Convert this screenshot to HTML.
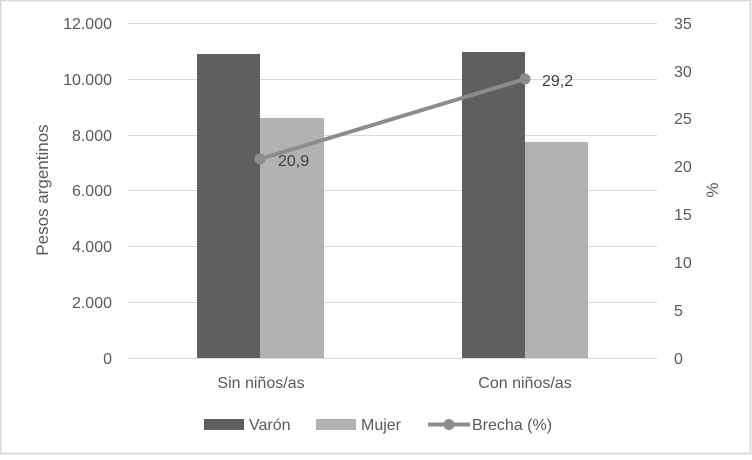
<!DOCTYPE html>
<html><head><meta charset="utf-8"><style>
html,body{margin:0;padding:0;background:#fff}
text{font-family:"Liberation Sans",sans-serif;fill:#595959}
</style></head><body>
<svg width="752" height="455" viewBox="0 0 752 455" xmlns="http://www.w3.org/2000/svg">
<rect x="0.5" y="0.5" width="750" height="453" fill="#fff" stroke="#d9d9d9" stroke-width="2"/>
<g stroke="#d9d9d9" stroke-width="1">
<line x1="128" y1="23.5" x2="657" y2="23.5"/>
<line x1="128" y1="79.5" x2="657" y2="79.5"/>
<line x1="128" y1="135.5" x2="657" y2="135.5"/>
<line x1="128" y1="190.5" x2="657" y2="190.5"/>
<line x1="128" y1="246.5" x2="657" y2="246.5"/>
<line x1="128" y1="302.5" x2="657" y2="302.5"/>
<line x1="128" y1="358.5" x2="657" y2="358.5"/>
</g>
<rect x="197" y="54" width="63" height="304" fill="#5f5f5f"/>
<rect x="260" y="118" width="64" height="240" fill="#b2b2b2"/>
<rect x="462" y="52" width="63" height="306" fill="#5f5f5f"/>
<rect x="525" y="142" width="63" height="216" fill="#b2b2b2"/>
<line x1="260" y1="159" x2="525" y2="79" stroke="#8c8c8c" stroke-width="4"/>
<circle cx="260" cy="159" r="5.5" fill="#8c8c8c"/>
<circle cx="525" cy="79" r="5.5" fill="#8c8c8c"/>
<text x="278" y="166" font-size="16" fill="#404040" style="fill:#404040">20,9</text>
<text x="542" y="86" font-size="16" style="fill:#404040">29,2</text>
<g font-size="16" text-anchor="end">
<text x="112" y="29">12.000</text>
<text x="112" y="85">10.000</text>
<text x="112" y="141">8.000</text>
<text x="112" y="196">6.000</text>
<text x="112" y="252">4.000</text>
<text x="112" y="308">2.000</text>
<text x="112" y="364">0</text>
</g>
<g font-size="16">
<text x="674" y="29">35</text>
<text x="674" y="77">30</text>
<text x="674" y="124">25</text>
<text x="674" y="172">20</text>
<text x="674" y="220">15</text>
<text x="674" y="268">10</text>
<text x="674" y="316">5</text>
<text x="674" y="364">0</text>
</g>
<text transform="translate(48,190) rotate(-90)" font-size="17" text-anchor="middle">Pesos argentinos</text>
<text transform="translate(718,190) rotate(-90)" font-size="17" text-anchor="middle">%</text>
<g font-size="16" text-anchor="middle">
<text x="261" y="388">Sin niños/as</text>
<text x="525" y="388">Con niños/as</text>
</g>
<rect x="204" y="419" width="40" height="11" fill="#5f5f5f"/>
<text x="249" y="430" font-size="16">Varón</text>
<rect x="316" y="419" width="40" height="11" fill="#b2b2b2"/>
<text x="361" y="430" font-size="16">Mujer</text>
<line x1="428" y1="424.5" x2="470" y2="424.5" stroke="#8c8c8c" stroke-width="4"/>
<circle cx="449" cy="424.5" r="5.5" fill="#8c8c8c"/>
<text x="472" y="430" font-size="16">Brecha (%)</text>
</svg>
</body></html>
